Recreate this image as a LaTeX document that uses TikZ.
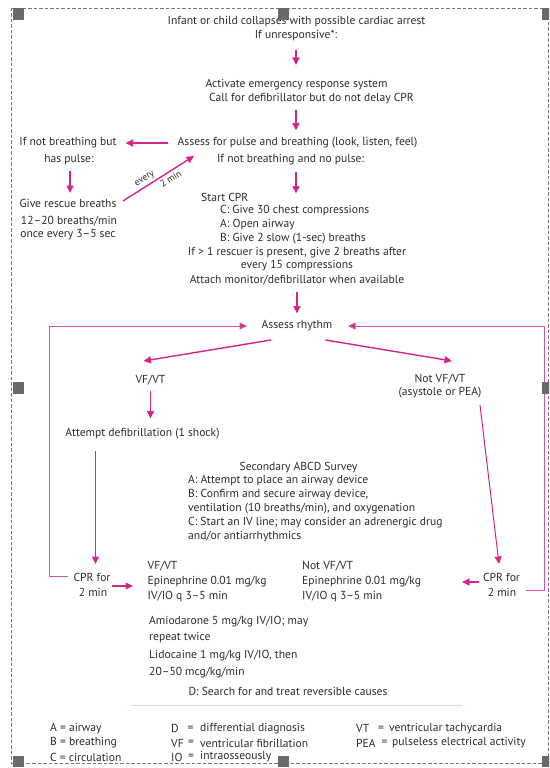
\documentclass[tikz,border=0pt]{standalone}
\usepackage{fontspec}
\setmainfont{PT Sans}
\usetikzlibrary{arrows.meta,calc}
\definecolor{mag}{RGB}{214,36,142}
\definecolor{loopc}{RGB}{206,84,168}
\definecolor{txt}{RGB}{45,45,45}
\definecolor{hand}{RGB}{105,105,105}
\definecolor{sepc}{RGB}{242,205,222}
\definecolor{bord}{RGB}{120,120,120}
\tikzset{
  lbl/.style={font=\fontsize{11.6}{13}\selectfont, text=txt, inner sep=1pt},
  lw/.style={lbl, anchor=west},
  small/.style={lbl, font=\fontsize{9.5}{11}\selectfont, inner sep=0pt},
  arr/.style={draw=mag, line width=1.4pt, -{Triangle[length=7.5pt,width=7pt]}},
  thinarr/.style={draw=mag, line width=1pt, -{Triangle[length=7.5pt,width=7pt]}},
  loopln/.style={draw=loopc, line width=1pt},
  looparr/.style={loopln, -{Triangle[length=7.5pt,width=7pt,fill=mag]}},
  handle/.style={fill=hand},
  border/.style={draw=bord, line width=0.7pt, dash pattern=on 3.5pt off 2pt}
}
\begin{document}
\begin{tikzpicture}[x=1pt,y=-1pt]
\useasboundingbox (0,0) rectangle (549,768);
\fill[white] (0,0) rectangle (549,768);
\clip (0,0) rectangle (549,768);
\draw[border] (11.5,8) rectangle (548,763);

% top column
\node[lbl] (title) at (296.5,21.5) {Infant or child collapses with possible cardiac arrest};
\node[lbl] (unresp) at (296,36) {If unresponsive*:};
\node[lbl] (act) at (296.5,85) {Activate emergency response system};
\node[lbl] (call) at (311.5,99) {Call for defibrillator but do not delay CPR};
\node[lbl] (assess) at (297.5,143) {Assess for pulse and breathing (look, listen, feel)};
\node[lbl] (nobreath) at (290.6,160) {If not breathing and no pulse:};

% left column
\node[lbl] (nbp1) at (68,143) {If not breathing but};
\node[lbl] (nbp2) at (69,160) {has pulse:};
\node[lbl] (rescue) at (68,203) {Give rescue breaths};
\node[lbl] (rate1) at (69,221.5) {12–20 breaths/min};
\node[lbl] (rate2) at (68,235) {once every 3–5 sec};

% CPR block
\node[lw] (startcpr) at (200,197) {Start CPR};
\node[lw] (cprC) at (219,211) {C: Give 30 chest compressions};
\node[lw] (cprA) at (219,224.5) {A: Open airway};
\node[lw] (cprB) at (219,238.5) {B: Give 2 slow (1-sec) breaths};
\node[lbl] (resc1) at (297,252.5) {If > 1 rescuer is present, give 2 breaths after};
\node[lbl] (resc2) at (297,266) {every 15 compressions};
\node[lbl] (attach) at (297,280) {Attach monitor/defibrillator when available};

\node[lbl] (rhythm) at (297,326) {Assess rhythm};
\node[lbl] (vfvt) at (150.5,380) {VF/VT};
\node[lbl] (notvf1) at (440,379.5) {Not VF/VT};
\node[lbl] (notvf2) at (440,393) {(asystole or PEA)};
\node[lbl] (defib) at (142.5,433.5) {Attempt defibrillation (1 shock)};

% secondary survey
\node[lbl] (sec) at (298.5,467.5) {Secondary ABCD Survey};
\node[lw] (secA) at (187,481) {A: Attempt to place an airway device};
\node[lw] (secB) at (187,495) {B: Confirm and secure airway device,};
\node[lw] (secB2) at (187,508.5) {ventilation (10 breaths/min), and oxygenation};
\node[lw] (secC) at (187,522.5) {C: Start an IV line; may consider an adrenergic drug};
\node[lw] (secC2) at (187,536.5) {and/or antiarrhythmics};

% bottom row
\node[lbl] (cprL1) at (92,577) {CPR for};
\node[lbl] (cprL2) at (93,592) {2 min};
\node[lw] (vf1) at (146.5,566.5) {VF/VT};
\node[lw] (vf2) at (146.5,582) {Epinephrine 0.01 mg/kg};
\node[lw] (vf3) at (146.5,597) {IV/IO q 3–5 min};
\node[lw] (nv1) at (301,566.5) {Not VF/VT};
\node[lw] (nv2) at (301,582) {Epinephrine 0.01 mg/kg};
\node[lw] (nv3) at (301,597) {IV/IO q 3–5 min};
\node[lbl] (cprR1) at (501.5,577) {CPR for};
\node[lbl] (cprR2) at (502,592) {2 min};

\node[lw] (amio1) at (148,622) {Amiodarone 5 mg/kg IV/IO; may};
\node[lw] (amio2) at (148,638) {repeat twice};
\node[lw] (lido1) at (148,656) {Lidocaine 1 mg/kg IV/IO, then};
\node[lw] (lido2) at (148,673) {20–50 mcg/kg/min};
\node[lbl] (dsearch) at (288,691) {D: Search for and treat reversible causes};

\draw[sepc, line width=0.8pt] (131,705) -- (462,705);

% legend
\node[lw] (lgA) at (49,728.5) {A = airway};
\node[lw] (lgB) at (49,743) {B = breathing};
\node[lw] (lgC) at (49,757) {C = circulation};
\node[lw] (lgD) at (170,728.5) {D};
\node[lw] (lgDe) at (186.5,728.5) {=};
\node[lw] (lgDt) at (199,728.5) {differential diagnosis};
\node[lw] (lgVF) at (170,743) {VF};
\node[lw] (lgVFe) at (187,743) {=};
\node[lw] (lgVFt) at (199,743) {ventricular fibrillation};
\node[lw] (lgIO) at (170,757) {IO};
\node[lw] (lgIOe) at (187,757) {=};
\node[lw] (lgIOt) at (199,757) {intraosseously};
\node[lw] (lgVT) at (355,728.5) {VT};
\node[lw] (lgVTe) at (377,728.5) {=};
\node[lw] (lgVTt) at (388,728.5) {ventricular tachycardia};
\node[lw] (lgPEA) at (355,743) {PEA};
\node[lw] (lgPEAe) at (380.5,743) {=};
\node[lw] (lgPEAt) at (391,743) {pulseless electrical activity};

% connectors
\draw[arr] ($(unresp)+(0,14)$) -- ($(unresp|-act)+(0,-20)$);
\draw[arr] ($(unresp|-call)+(0,11)$) -- ($(unresp|-assess)+(0,-12.5)$);
\draw[arr] ($(unresp|-nobreath)+(0,11.5)$) -- ($(unresp|-startcpr)+(0,-3.5)$);
\draw[arr] ($(assess)+(-129.5,0)$) -- ($(nbp1)+(57.5,0)$);
\draw[arr] ($(nbp2)+(1,11)$) -- ($(nbp2|-rescue)+(1,-10)$);
\draw[arr] ($(rescue)+(55,-2)$) -- node[small, sloped, above=2.5pt, pos=0.36] (every) {every}
   node[small, sloped, below=2.5pt, pos=0.62] (twomin) {2 min} ($(assess)+(-103.5,13)$);
\draw[arr] ($(attach)+(0,11.5)$) -- ($(rhythm)+(0,-12.5)$);
\draw[arr] ($(rhythm)+(-26,14)$) -- ($(vfvt)+(-7,-19)$);
\draw[arr] ($(rhythm)+(28.5,14)$) -- ($(notvf1)+(12,-18.5)$);
\draw[arr] ($(vfvt)+(0,11)$) -- ($(vfvt|-defib)+(0,-15)$);
\draw[arr] ($(defib)+(-47,17.5)$) -- ($(defib|-cprL1)+(-47,-13)$);
\draw[thinarr] ($(notvf2)+(40,12)$) -- ($(cprR1)+(-2.5,-13)$);
\draw[arr] ($(cprL1)+(20,9)$) -- ($(cprL1)+(41,9)$);
\draw[arr] ($(cprR1)+(-22.5,5)$) -- ($(cprR1)+(-39.5,5)$);

\coordinate (lcorner) at (49,326);
\coordinate (rcorner) at (544.5,326);
\draw[looparr] ($(cprL1)+(-24,-1)$) -| (lcorner) -- ($(rhythm)+(-50,0)$);
\draw[looparr] ($(cprR2)+(24,-2)$) -| (rcorner) -- ($(rhythm)+(51,0)$);

% selection handles
\foreach \hx/\hy in {12.5/8.5, 277.5/8.5, 541.5/8.5, 12.5/382, 541.5/382, 12.5/755.5, 277.5/755.5, 541.5/755.5}{
  \fill[handle] (\hx,\hy) rectangle ++(11.5,11.5);
}
\end{tikzpicture}
\end{document}
